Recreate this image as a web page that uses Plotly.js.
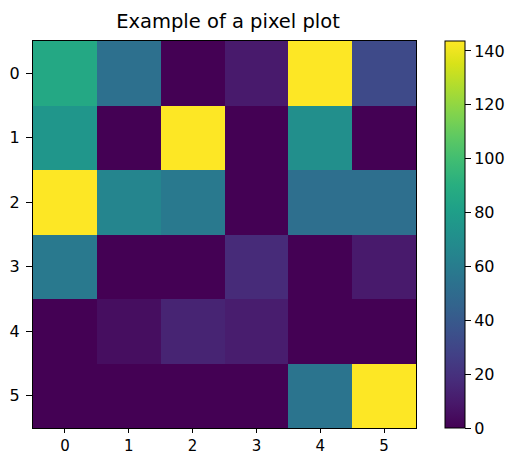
<!DOCTYPE html>
<html><head><meta charset="utf-8">
<script src="https://cdn.plot.ly/plotly-3.0.1.min.js"></script>
<style>html,body{margin:0;padding:0;background:#fff;}#chart{width:518px;height:455px;}</style>
</head><body><div id="chart"></div>
<script>
const xLabels = [0, 1, 2, 3, 4, 5];
const yLabels = [0, 1, 2, 3, 4, 5];
const row0 = [86, 53, 0, 10, 143.7, 32];
const row1 = [75, 0, 143.7, 0, 71, 0];
const row2 = [143.7, 65, 58, 0, 52, 52];
const row3 = [58, 0, 0, 17, 0, 10];
const row4 = [0, 5, 14, 11, 0, 0];
const row5 = [0, 0, 0, 0, 55, 143.7];
const zValues = [row0, row1, row2, row3, row4, row5];
const cbTicks = [0, 20, 40, 60, 80, 100, 120, 140];

const font = {family: 'DejaVu Sans', size: 16, color: '#000'};
const trace = {
  type: 'heatmap', x: xLabels, y: yLabels, z: zValues,
  colorscale: 'Viridis', zmin: 0, zmax: 143.7, xgap: 0, ygap: 0,
  colorbar: {
    x: 1.075, xanchor: 'left', xref: 'paper', y: 0.5, yanchor: 'middle', len: 1, lenmode: 'fraction',
    thickness: 20, thicknessmode: 'pixels', outlinecolor: '#000', outlinewidth: 1,
    ticks: 'outside', ticklen: 6, tickcolor: '#000', tickvals: cbTicks, ticktext: cbTicks.map(String),
    ticklabelstandoff: 3,
    tickfont: font, xpad: 0, ypad: 0
  }
};
const axisBase = {
  showgrid: false, zeroline: false, showline: true, linecolor: '#000', linewidth: 1, mirror: true,
  ticks: 'outside', tickcolor: '#000', tickfont: font
};
const layout = {
  width: 518, height: 455,
  margin: {l: 33, r: 97, t: 41, b: 27},
  paper_bgcolor: '#fff', plot_bgcolor: '#fff',
  title: {text: 'Example of a pixel plot', font: {family: 'DejaVu Sans', size: 19.5, color: '#000'}, xref: 'container', x: 228/518, xanchor: 'center', yref: 'container', y: 1 - 21/455, yanchor: 'middle'},
  xaxis: Object.assign({}, axisBase, {ticklen: 4, tickfont: {family: 'DejaVu Sans', size: 15, color: '#000'}, tickvals: xLabels, ticktext: xLabels.map(String), range: [-0.5, 5.5]}),
  yaxis: Object.assign({}, axisBase, {ticklen: 6, ticklabelstandoff: 3, tickvals: yLabels, ticktext: yLabels.map(String), range: [5.5, -0.5]})
};
Plotly.newPlot('chart', [trace], layout, {displayModeBar: false, staticPlot: true});
</script></body></html>
